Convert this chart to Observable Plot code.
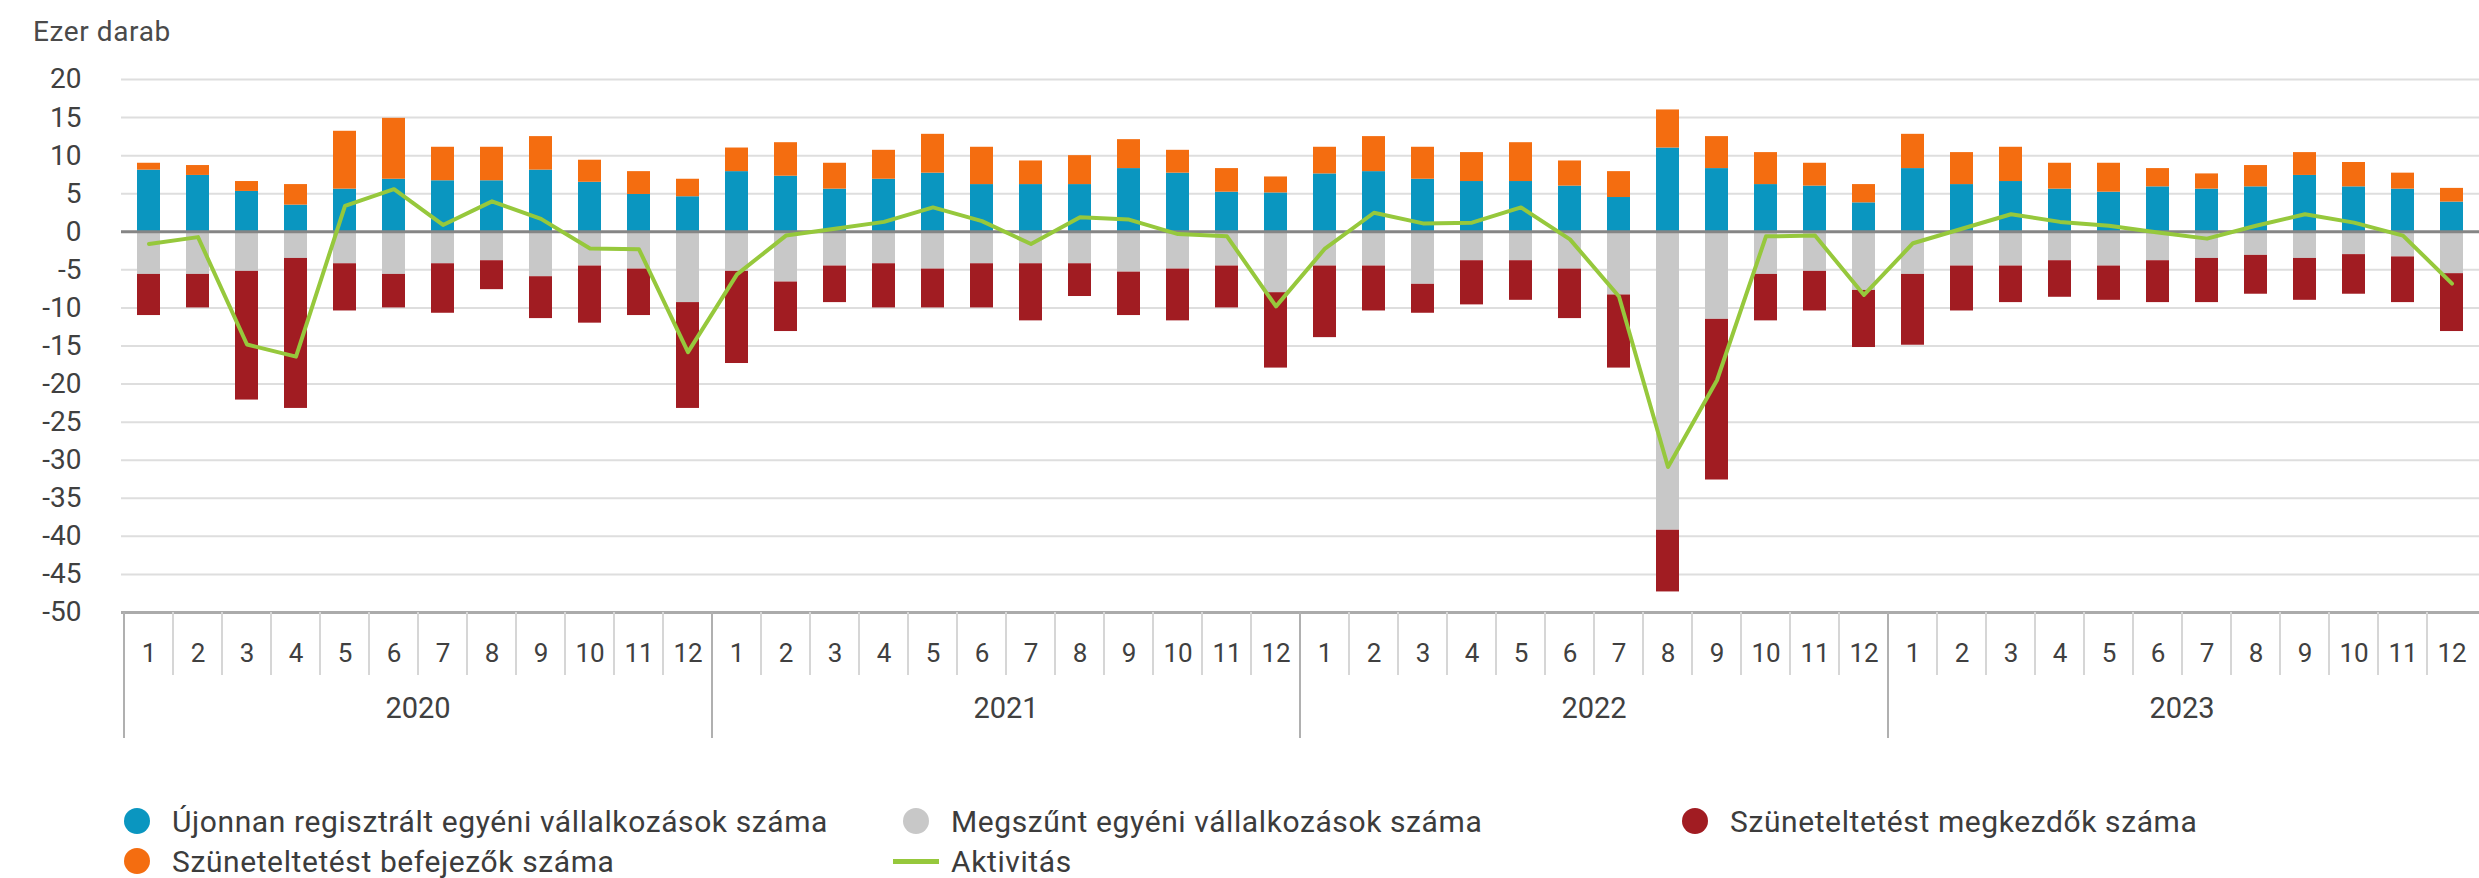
<!DOCTYPE html>
<html><head><meta charset="utf-8">
<script src="https://cdn.jsdelivr.net/npm/d3@7"></script>
<script src="https://cdn.jsdelivr.net/npm/@observablehq/plot@0.6"></script>
<style>
html,body{margin:0;padding:0;background:#fff;width:2479px;height:878px;overflow:hidden;font-family:Roboto,"Noto Sans",sans-serif;}
#title{position:absolute;left:33px;top:14px;font-size:28px;letter-spacing:0.6px;color:#4a4a4a;line-height:36px;}
#chart{position:absolute;left:0;top:50px;}
#legend{position:absolute;left:114px;top:801px;display:grid;grid-template-columns:779px 779px 779px;grid-auto-rows:40px;font-size:30px;letter-spacing:0.6px;color:#3c3c3c;}
.item{display:flex;align-items:center;white-space:nowrap;}
.sw{width:46px;height:40px;display:flex;align-items:center;justify-content:center;margin-right:12px;flex:none;}
.dot{width:26px;height:26px;border-radius:50%;}
.ln{width:46px;height:5px;}
</style></head><body>
<div id="title">Ezer darab</div>
<div id="chart"></div>
<div id="legend"></div>
<script>
const years = [2020, 2021, 2022, 2023];
const monthNums = [1,2,3,4,5,6,7,8,9,10,11,12];
const yTicks = [20,15,10,5,0,-5,-10,-15,-20,-25,-30,-35,-40,-45,-50];

const ujonnan = [
  8.1, 7.4, 5.3, 3.5, 5.6, 6.9, 6.7, 6.7, 8.1, 6.5, 4.9, 4.6,
  7.9, 7.3, 5.6, 6.9, 7.7, 6.2, 6.2, 6.2, 8.3, 7.7, 5.2, 5.1,
  7.6, 7.9, 6.9, 6.6, 6.6, 6.0, 4.5, 11.0, 8.3, 6.2, 6.0, 3.8,
  8.3, 6.2, 6.6, 5.6, 5.2, 5.9, 5.6, 5.9, 7.4, 5.9, 5.6, 3.9
];
const befejezo = [
  0.9, 1.3, 1.3, 2.7, 7.6, 8.0, 4.4, 4.4, 4.4, 2.9, 3.0, 2.3,
  3.1, 4.4, 3.4, 3.8, 5.1, 4.9, 3.1, 3.8, 3.8, 3.0, 3.1, 2.1,
  3.5, 4.6, 4.2, 3.8, 5.1, 3.3, 3.4, 5.0, 4.2, 4.2, 3.0, 2.4,
  4.5, 4.2, 4.5, 3.4, 3.8, 2.4, 2.0, 2.8, 3.0, 3.2, 2.1, 1.8
];
const megszunt = [
  -5.6, -5.6, -5.2, -3.5, -4.2, -5.6, -4.2, -3.8, -5.9, -4.5, -4.9, -9.3,
  -5.2, -6.6, -4.5, -4.2, -4.9, -4.2, -4.2, -4.2, -5.3, -4.9, -4.5, -8.0,
  -4.5, -4.5, -6.9, -3.8, -3.8, -4.9, -8.3, -39.2, -11.5, -5.6, -5.2, -7.7,
  -5.6, -4.5, -4.5, -3.8, -4.5, -3.8, -3.5, -3.1, -3.5, -3.0, -3.3, -5.5
];
const megkezdo = [
  -5.4, -4.4, -16.9, -19.7, -6.2, -4.4, -6.5, -3.8, -5.5, -7.5, -6.1, -13.9,
  -12.1, -6.5, -4.8, -5.8, -5.1, -5.8, -7.5, -4.3, -5.7, -6.8, -5.5, -9.9,
  -9.4, -5.9, -3.8, -5.8, -5.2, -6.5, -9.6, -8.1, -21.1, -6.1, -5.2, -7.5,
  -9.3, -5.9, -4.8, -4.8, -4.5, -5.5, -5.8, -5.1, -5.5, -5.2, -6.0, -7.6
];
const aktivitas = [
  -1.6, -0.7, -14.8, -16.4, 3.4, 5.6, 0.9, 4.0, 1.7, -2.2, -2.3, -15.8,
  -5.6, -0.5, 0.4, 1.3, 3.2, 1.4, -1.6, 1.9, 1.6, -0.3, -0.6, -9.8,
  -2.2, 2.5, 1.1, 1.2, 3.2, -1.0, -8.5, -30.9, -19.5, -0.6, -0.5, -8.3,
  -1.5, 0.4, 2.3, 1.3, 0.8, -0.1, -0.9, 0.8, 2.3, 1.2, -0.5, -6.8
];

const seriesNames = [
  "Újonnan regisztrált egyéni vállalkozások száma",
  "Szüneteltetést befejezők száma",
  "Megszűnt egyéni vállalkozások száma",
  "Szüneteltetést megkezdők száma"
];
const lineName = "Aktivitás";
const seriesColors = ["#0a96c0", "#f46d10", "#c8c8c8", "#a11c22"];
const lineColor = "#96c83c";

const keys = [];
years.forEach(y => monthNums.forEach(m => keys.push(`${y}-${m}`)));
const seriesValues = [ujonnan, befejezo, megszunt, megkezdo];
const long = seriesValues.flatMap((vals, s) => vals.map((v, i) => ({key: keys[i], series: seriesNames[s], value: v})));
const lineData = keys.map((k, i) => ({key: k, value: aktivitas[i]}));

const plot = Plot.plot({
  width: 2479, height: 700,
  marginLeft: 121, marginRight: 0, marginTop: 29, marginBottom: 138,
  style: {fontFamily: "Roboto, 'Noto Sans', sans-serif", background: "white", color: "#404040", overflow: "visible"},
  x: {domain: keys, paddingInner: 0.53, paddingOuter: 0.265, axis: null},
  y: {domain: [-50, 20], axis: null, label: null},
  color: {domain: seriesNames, range: seriesColors},
  marks: [
    Plot.gridY({ticks: yTicks.filter(t => t !== 0 && t !== -50), stroke: "#dedede", strokeOpacity: 1, strokeWidth: 2}),
    Plot.barY(long, {x: "key", y: "value", fill: "series"}),
    Plot.ruleY([0], {stroke: "#858585", strokeWidth: 3}),
    Plot.ruleY([-50], {stroke: "#ababab", strokeWidth: 3}),
    Plot.lineY(lineData, {x: "key", y: "value", stroke: lineColor, strokeWidth: 4, curve: "linear", strokeLinejoin: "round"}),
    Plot.axisY({ticks: yTicks, tickSize: 0, tickPadding: 40, tickFormat: d => String(d), fontSize: 28, label: null}),
    Plot.axisX({tickSize: 0, tickPadding: 31, tickFormat: k => k.split("-")[1], fontSize: 26, label: null})
  ]
});
document.getElementById("chart").appendChild(plot);

// month / year separators and year labels, positioned through Plot's scales
const xs = plot.scale("x"), ys = plot.scale("y");
const step = xs.step, bw = xs.bandwidth;
const yb = ys.apply(-50);
const svg = d3.select(plot);
const g = svg.append("g");
keys.forEach((k, i) => {
  const x0 = xs.apply(k) - (step - bw) / 2;
  const isYear = i % 12 === 0;
  g.append("line").attr("x1", x0).attr("x2", x0)
    .attr("y1", yb).attr("y2", yb + (isYear ? 126 : 63))
    .attr("stroke", isYear ? "#b0b0b0" : "#d6d6d6").attr("stroke-width", 2);
});
years.forEach(y => {
  const first = xs.apply(`${y}-1`) - (step - bw) / 2;
  g.append("text").attr("x", first + step * 6).attr("y", yb + 96).attr("dy", "0.35em")
    .attr("text-anchor", "middle").attr("font-size", 29).attr("fill", "#404040").text(y);
});

// legend
const legend = document.getElementById("legend");
const items = [
  {name: seriesNames[0], color: seriesColors[0], type: "dot"},
  {name: seriesNames[2], color: seriesColors[2], type: "dot"},
  {name: seriesNames[3], color: seriesColors[3], type: "dot"},
  {name: seriesNames[1], color: seriesColors[1], type: "dot"},
  {name: lineName, color: lineColor, type: "ln"}
];
items.forEach(it => {
  const d = document.createElement("div"); d.className = "item";
  const sw = document.createElement("div"); sw.className = "sw";
  const m = document.createElement("div"); m.className = it.type; m.style.background = it.color;
  sw.appendChild(m); d.appendChild(sw);
  const t = document.createElement("span"); t.textContent = it.name; d.appendChild(t);
  legend.appendChild(d);
});
</script>
</body></html>
